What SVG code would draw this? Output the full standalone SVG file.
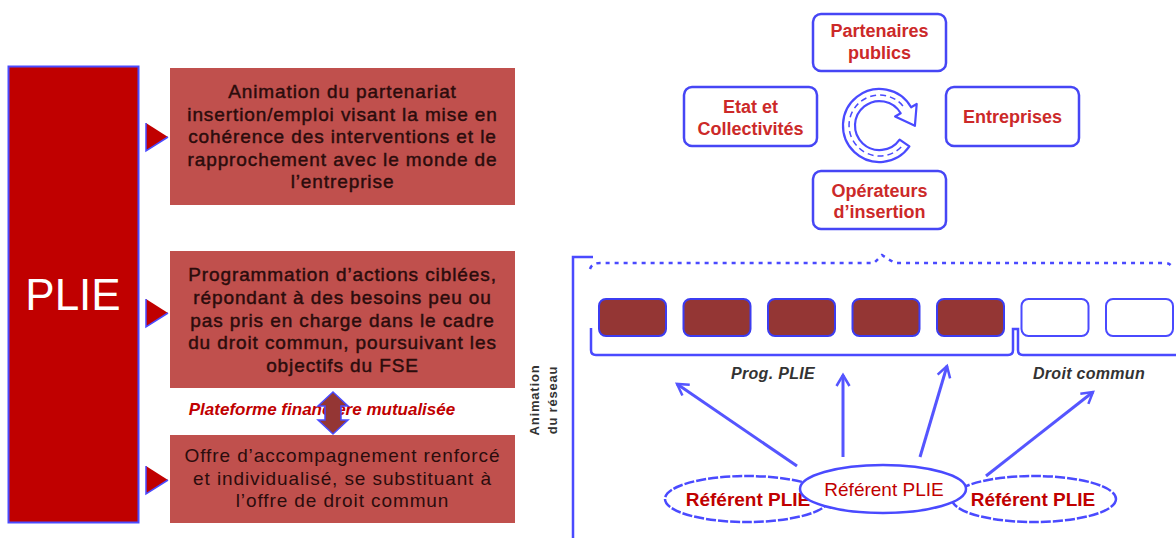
<svg xmlns="http://www.w3.org/2000/svg" width="1176" height="538" viewBox="0 0 1176 538">
<defs>
<style>
.box{fill:#C0504D;}
.bt{font-family:"Liberation Sans",Arial,sans-serif;font-size:19px;fill:#2b0c0c;text-anchor:middle;letter-spacing:0.9px;}
.heavy{stroke:#2b0c0c;stroke-width:0.45;}
.rb{fill:#fff;stroke:#4646F5;stroke-width:2.5;}
.rt{font-family:"Liberation Sans",Arial,sans-serif;font-size:18px;font-weight:bold;fill:#CC2929;text-anchor:middle;}
.blu{stroke:#4a4aff;fill:none;stroke-width:2.5;}
.dk{fill:#943634;stroke:#3c3cf0;stroke-width:2;}
.wh{fill:#fff;stroke:#4a4aff;stroke-width:2;}
.arr{stroke:#5555ff;stroke-width:3;fill:none;marker-end:url(#ah);}
.lab{font-family:"Liberation Sans",Arial,sans-serif;font-size:16px;font-weight:bold;font-style:italic;fill:#333;text-anchor:middle;letter-spacing:0.3px;}
.ell{fill:#fff;stroke:#4a4aff;stroke-width:2.5;}
.refb{font-family:"Liberation Sans",Arial,sans-serif;font-size:19px;font-weight:bold;fill:#C00000;text-anchor:middle;}
</style>
<marker id="ah" markerUnits="userSpaceOnUse" markerWidth="16" markerHeight="16" viewBox="0 0 16 16" refX="13" refY="8" orient="auto">
<path d="M2,1.5 L13,8 L2,14.5" fill="none" stroke="#5555ff" stroke-width="2.5"/>
</marker>
</defs>

<g id="plie">
<rect x="8.5" y="66.5" width="130" height="456" fill="#C00000" stroke="#4a4aff" stroke-width="2"/>
<text x="73" y="310" font-family="'Liberation Sans',Arial,sans-serif" font-size="44" fill="#fff" text-anchor="middle">PLIE</text>
</g>

<g id="pointers">
<polygon points="146,123 168,137 146,151" fill="#C00000"/>
<polyline points="168,137 146,151 146,123" fill="none" stroke="#4a4aff" stroke-width="1.5"/>
<polygon points="146,299 168,313 146,327" fill="#C00000"/>
<polyline points="168,313 146,327 146,299" fill="none" stroke="#4a4aff" stroke-width="1.5"/>
<polygon points="146,466 168,480 146,494" fill="#C00000"/>
<polyline points="168,480 146,494 146,466" fill="none" stroke="#4a4aff" stroke-width="1.5"/>
</g>

<g id="box1">
<rect class="box" x="170" y="68" width="345" height="137"/>
<text class="bt heavy" x="342.5" y="98">Animation du partenariat</text>
<text class="bt heavy" x="342.5" y="121">insertion/emploi visant la mise en</text>
<text class="bt heavy" x="342.5" y="143">cohérence des interventions et le</text>
<text class="bt heavy" x="342.5" y="166">rapprochement avec le monde de</text>
<text class="bt heavy" x="342.5" y="188">l’entreprise</text>
</g>

<g id="box2">
<rect class="box" x="170" y="251" width="345" height="137"/>
<text class="bt heavy" x="342.5" y="281">Programmation d’actions ciblées,</text>
<text class="bt heavy" x="342.5" y="304">répondant à des besoins peu ou</text>
<text class="bt heavy" x="342.5" y="327">pas pris en charge dans le cadre</text>
<text class="bt heavy" x="342.5" y="349">du droit commun, poursuivant les</text>
<text class="bt heavy" x="342.5" y="372">objectifs du FSE</text>
</g>

<g id="box3">
<rect class="box" x="170" y="435" width="345" height="88"/>
<text class="bt" x="342.5" y="462">Offre d’accompagnement renforcé</text>
<text class="bt" x="342.5" y="485">et individualisé, se substituant à</text>
<text class="bt" x="342.5" y="507">l’offre de droit commun</text>
</g>

<g id="plateforme">
<text x="322" y="415" font-family="'Liberation Sans',Arial,sans-serif" font-size="17" font-weight="bold" font-style="italic" fill="#C00000" text-anchor="middle">Plateforme financière mutualisée</text>
<polygon points="333,392 348,406 341,406 341,420 348,420 333,434 318,420 325,420 325,406 318,406" fill="#943634" stroke="#4a4aff" stroke-width="1.5"/>
</g>

<g id="partenaires">
<rect class="rb" x="813" y="14" width="133" height="57" rx="8"/>
<text class="rt" x="879.5" y="37">Partenaires</text>
<text class="rt" x="879.5" y="59">publics</text>
</g>
<g id="etat">
<rect class="rb" x="684" y="87" width="133" height="59" rx="8"/>
<text class="rt" x="750.5" y="113">Etat et</text>
<text class="rt" x="750.5" y="135">Collectivités</text>
</g>
<g id="entreprises">
<rect class="rb" x="946" y="87" width="133" height="59" rx="8"/>
<text class="rt" x="1012.5" y="123">Entreprises</text>
</g>
<g id="operateurs">
<rect class="rb" x="813" y="171" width="133" height="58" rx="8"/>
<text class="rt" x="879.5" y="197">Opérateurs</text>
<text class="rt" x="879.5" y="218">d’insertion</text>
</g>
<g id="cycle">
<path d="M909.4,146.4 A36.5,36.5 0 1,1 911.1,107.3 L916.7,104 L914.9,125.8 L895.1,116.5 L900.7,113.3 A24.5,24.5 0 1,0 899.6,139.6 Z" fill="#fff" stroke="#4a4aff" stroke-width="2.2" stroke-linejoin="round"/>
<path d="M902.9,105.9 A30.5,30.5 0 1,0 902.9,145.1" fill="none" stroke="#4a4aff" stroke-width="1.5" stroke-dasharray="6 4"/>
</g>

<g id="reseau">
<path class="blu" d="M573,538 V257 H593"/>
<path class="blu" stroke-dasharray="4 5" d="M590,269 Q592,263 600,263 H874 L882,255 L888,259 L895,263 H1165 Q1171,263 1173,269"/>
<path class="blu" d="M591,328 V350 Q591,355 596,355 H1008 Q1013,355 1013,350 V329 H1018 V350 Q1018,355 1023,355 H1176"/>
<text class="lab" x="773" y="379">Prog. PLIE</text>
<text class="lab" x="1089" y="379">Droit commun</text>
<g font-family="'Liberation Sans',Arial,sans-serif" font-size="13" font-weight="bold" fill="#333" text-anchor="middle" letter-spacing="0.8">
<text transform="translate(539,400) rotate(-90)">Animation</text>
<text transform="translate(557,400) rotate(-90)">du réseau</text>
</g>
</g>

<g id="actions">
<rect class="dk" x="599" y="299" width="67" height="37" rx="7"/>
<rect class="dk" x="683.5" y="299" width="67" height="37" rx="7"/>
<rect class="dk" x="768" y="299" width="67" height="37" rx="7"/>
<rect class="dk" x="852.5" y="299" width="67" height="37" rx="7"/>
<rect class="dk" x="937" y="299" width="67" height="37" rx="7"/>
<rect class="wh" x="1021.5" y="299" width="67" height="37" rx="7"/>
<rect class="wh" x="1106" y="299" width="67" height="37" rx="7"/>
</g>

<g id="connectors">
<line class="arr" x1="797" y1="466" x2="677" y2="384"/>
<line class="arr" x1="843" y1="457" x2="843" y2="375"/>
<line class="arr" x1="920" y1="457" x2="947" y2="366"/>
<line class="arr" x1="986" y1="476" x2="1093" y2="392"/>
</g>

<g id="referent-left">
<ellipse class="ell" cx="747" cy="499" rx="82" ry="23" stroke-dasharray="10 2"/>
<text class="refb" x="748" y="506">Référent PLIE</text>
</g>
<g id="referent-right">
<ellipse class="ell" cx="1034" cy="499" rx="82" ry="23" stroke-dasharray="10 2"/>
<text class="refb" x="1033" y="506">Référent PLIE</text>
</g>
<g id="referent-mid">
<ellipse class="ell" cx="883" cy="489" rx="83" ry="24"/>
<text x="884" y="496" font-family="'Liberation Sans',Arial,sans-serif" font-size="19" fill="#C00000" text-anchor="middle">Référent PLIE</text>
</g>
</svg>
